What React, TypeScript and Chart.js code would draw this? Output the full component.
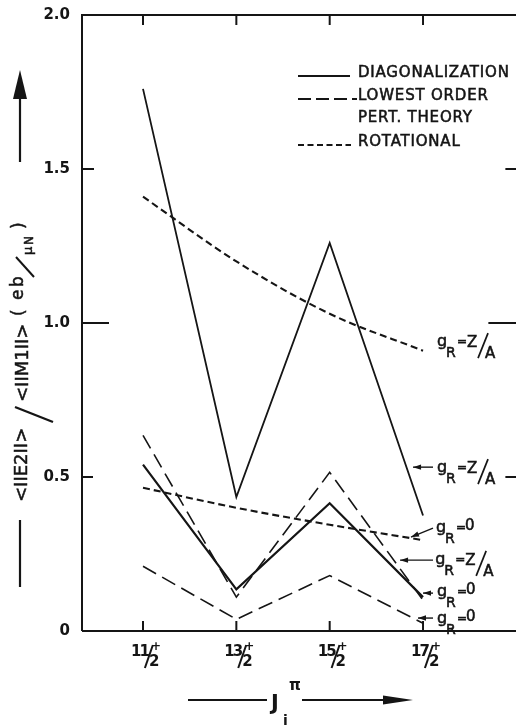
import React, { useEffect, useRef } from "react";
import { Chart, registerables } from "chart.js";

Chart.register(...registerables);

// Spin/parity of the initial state J_i^π (numerator over 2, positive parity)
const spinNumerators = [11, 13, 15, 17];
const spinDenominator = "2";
const parity = "+";

// <||E2||>/<||M1||> in e b / μN
const diagZA = [1.76, 0.435, 1.26, 0.375];
const diagZero = [0.54, 0.135, 0.415, 0.11];
const pertZA = [0.635, 0.11, 0.515, 0.1];
const pertZero = [0.21, 0.038, 0.18, 0.025];
const rotZA = [1.41, 1.2, 1.03, 0.91];
const rotZero = [0.465, 0.4, 0.345, 0.295];

const yTicks = [0, 0.5, 1.0, 1.5, 2.0];
const legendLabels = ["DIAGONALIZATION", "LOWEST ORDER", "PERT. THEORY", "ROTATIONAL"];

const INK = "#151515";
const FONT = '"DejaVu Sans", sans-serif';

// g_R labels next to the curve ends (value coordinates), optional arrow tail -> head
const gLabels = [
  { rhs: "Z/A", x: 3.15, y: 0.925 },
  { rhs: "Z/A", x: 3.15, y: 0.516, arrow: [3.107, 0.532, 2.893, 0.532] },
  { rhs: "0", x: 3.14, y: 0.321, arrow: [3.107, 0.334, 2.871, 0.305] },
  { rhs: "Z/A", x: 3.13, y: 0.218, arrow: [3.107, 0.23, 2.754, 0.23] },
  { rhs: "0", x: 3.15, y: 0.114, arrow: [3.107, 0.123, 3.0, 0.123] },
  { rhs: "0", x: 3.15, y: 0.026, arrow: [3.107, 0.042, 2.946, 0.042] },
];

const toPoints = (vals: number[]) => vals.map((v, i) => ({ x: i, y: v }));

function arrowHead(ctx: CanvasRenderingContext2D, x1: number, y1: number, x2: number, y2: number, len: number, half: number) {
  const a = Math.atan2(y2 - y1, x2 - x1);
  ctx.beginPath();
  ctx.moveTo(x2, y2);
  ctx.lineTo(x2 - len * Math.cos(a) + half * Math.sin(a), y2 - len * Math.sin(a) - half * Math.cos(a));
  ctx.lineTo(x2 - len * Math.cos(a) - half * Math.sin(a), y2 - len * Math.sin(a) + half * Math.cos(a));
  ctx.closePath();
  ctx.fill();
}

function line(ctx: CanvasRenderingContext2D, x1: number, y1: number, x2: number, y2: number, w: number) {
  ctx.lineWidth = w;
  ctx.beginPath();
  ctx.moveTo(x1, y1);
  ctx.lineTo(x2, y2);
  ctx.stroke();
}

// regular glyphs with a thin outline for a medium-weight stroke
function medText(ctx: CanvasRenderingContext2D, text: string, x: number, y: number) {
  ctx.fillText(text, x, y);
  ctx.lineWidth = 0.55;
  ctx.strokeText(text, x, y);
}

function drawGR(ctx: CanvasRenderingContext2D, x0: number, b: number, rhs: string) {
  ctx.textAlign = "left";
  ctx.textBaseline = "alphabetic";
  ctx.font = `16px ${FONT}`;
  medText(ctx, "g", x0, b);
  ctx.font = `14px ${FONT}`;
  medText(ctx, "R", x0 + 9, b + 11);
  ctx.font = `12px ${FONT}`;
  medText(ctx, "=", x0 + 20, b - 1);
  ctx.font = `15px ${FONT}`;
  if (rhs === "0") {
    medText(ctx, "0", x0 + 29, b - 2);
  } else {
    const [num, den] = rhs.split("/");
    medText(ctx, num, x0 + 30, b + 1);
    line(ctx, x0 + 41, b + 12, x0 + 51, b - 13, 1.7);
    medText(ctx, den, x0 + 48, b + 12);
  }
}

function rotText(ctx: CanvasRenderingContext2D, text: string, x: number, y: number, font: string) {
  ctx.save();
  ctx.translate(x, y);
  ctx.rotate(-Math.PI / 2);
  ctx.font = font;
  ctx.textAlign = "left";
  ctx.textBaseline = "alphabetic";
  ctx.fillText(text, 0, 0);
  ctx.lineWidth = 0.5;
  ctx.strokeText(text, 0, 0);
  ctx.restore();
}

const decorations = {
  id: "decorations",
  afterDraw(chart: any) {
    const { ctx, chartArea, scales } = chart;
    const { left, top, right, bottom } = chartArea;
    const xs = scales.x;
    const ys = scales.y;
    ctx.save();
    ctx.strokeStyle = INK;
    ctx.fillStyle = INK;
    ctx.lineCap = "butt";

    // frame
    ctx.lineWidth = 2;
    ctx.beginPath();
    ctx.moveTo(left, bottom);
    ctx.lineTo(left, top);
    ctx.lineTo(right, top);
    ctx.moveTo(left, bottom);
    ctx.lineTo(right, bottom);
    ctx.stroke();

    // inward ticks on the value axes
    const leftTicks: [number, number][] = [[1.5, 12], [1.0, 27], [0.5, 11]];
    leftTicks.forEach(([v, len]) => line(ctx, left, ys.getPixelForValue(v), left + len, ys.getPixelForValue(v), 2));
    const rx = xs.getPixelForValue(4.0) + 2;
    const rightTicks: [number, number][] = [[1.5, 13], [1.0, 30], [0.5, 13]];
    rightTicks.forEach(([v, len]) => line(ctx, rx - len, ys.getPixelForValue(v), rx, ys.getPixelForValue(v), 2));

    // category ticks top and bottom, fraction labels
    spinNumerators.forEach((n, i) => {
      const cx = xs.getPixelForValue(i);
      line(ctx, cx, top, cx, top + 10, 2);
      line(ctx, cx, bottom, cx, bottom - 10, 2);
      const sx = cx - 12;
      ctx.textAlign = "left";
      ctx.textBaseline = "alphabetic";
      ctx.font = `bold 15px ${FONT}`;
      const num = String(n);
      ctx.letterSpacing = "-2px";
      ctx.fillText(num, sx, bottom + 25);
      const w = ctx.measureText(num).width;
      ctx.letterSpacing = "0px";
      line(ctx, sx + w - 3, bottom + 37, sx + w + 5, bottom + 14, 2);
      ctx.fillText(spinDenominator, sx + w + 1, bottom + 35);
      ctx.font = `bold 12px ${FONT}`;
      ctx.fillText(parity, sx + w + 3, bottom + 19);
    });

    // legend
    const lx1 = 298;
    const legendRows = [
      { y: 77, dash: [] as number[], x2: 350, label: legendLabels[0] },
      { y: 100, dash: [13, 5], x2: 357, label: legendLabels[1] },
      { y: 122, dash: null, x2: 0, label: legendLabels[2] },
      { y: 146, dash: [6, 3.5], x2: 351, label: legendLabels[3] },
    ];
    legendRows.forEach((r) => {
      if (r.dash) {
        ctx.setLineDash(r.dash);
        line(ctx, lx1, r.y - 1, r.x2, r.y - 1, 1.8);
        ctx.setLineDash([]);
      }
      ctx.font = `15px ${FONT}`;
      ctx.letterSpacing = "0.8px";
      ctx.textAlign = "left";
      medText(ctx, r.label, 358, r.y);
      ctx.letterSpacing = "0px";
    });

    // g_R labels with arrows
    gLabels.forEach((g) => {
      const gx = xs.getPixelForValue(g.x);
      const gy = ys.getPixelForValue(g.y);
      if (g.arrow) {
        const [ax1, ay1, ax2, ay2] = g.arrow;
        const p1x = xs.getPixelForValue(ax1), p1y = ys.getPixelForValue(ay1);
        const p2x = xs.getPixelForValue(ax2), p2y = ys.getPixelForValue(ay2);
        line(ctx, p1x, p1y, p2x, p2y, 1.4);
        arrowHead(ctx, p1x, p1y, p2x, p2y, 8, 2.7);
      }
      drawGR(ctx, gx, gy, g.rhs);
    });

    // value axis title, reading upward
    line(ctx, 20, 587, 20, 520, 2.2);
    rotText(ctx, "<IIE2II>", 27, 502, `18px ${FONT}`);
    line(ctx, 53, 422, 15, 407, 2.4);
    rotText(ctx, "<IIM1II>", 28, 402, `18px ${FONT}`);
    rotText(ctx, "(", 24, 316, `17px ${FONT}`);
    rotText(ctx, "e", 23, 300, `17px ${FONT}`);
    rotText(ctx, "b", 23, 287, `17px ${FONT}`);
    line(ctx, 34, 277, 16, 257, 2);
    rotText(ctx, "μ", 32, 255, `13px ${FONT}`);
    rotText(ctx, "N", 33, 245, `12px ${FONT}`);
    rotText(ctx, ")", 24, 229, `17px ${FONT}`);
    line(ctx, 20, 162, 20, 95, 2.2);
    ctx.beginPath();
    ctx.moveTo(20, 70);
    ctx.lineTo(27, 99);
    ctx.lineTo(13, 99);
    ctx.closePath();
    ctx.fill();

    // category axis title J_i^π
    line(ctx, 188, 700, 267, 700, 2.2);
    ctx.textAlign = "left";
    ctx.font = `bold 21px ${FONT}`;
    ctx.fillText("J", 271, 710);
    ctx.font = `bold 15px ${FONT}`;
    ctx.fillText("π", 289, 690);
    ctx.font = `bold 14px ${FONT}`;
    ctx.fillText("i", 283, 725);
    line(ctx, 302, 700, 390, 700, 2.2);
    ctx.beginPath();
    ctx.moveTo(413, 700);
    ctx.lineTo(383, 695.5);
    ctx.lineTo(383, 704.5);
    ctx.closePath();
    ctx.fill();

    ctx.restore();
  },
};

export default function App() {
  const ref = useRef<HTMLCanvasElement>(null);

  useEffect(() => {
    if (!ref.current) return;
    const base = { borderColor: INK, pointRadius: 0, fill: false, borderCapStyle: "butt" as const };
    const chart = new Chart(ref.current, {
      type: "line",
      data: {
        datasets: [
          { ...base, label: "Diagonalization g_R=Z/A", data: toPoints(diagZA), borderWidth: 1.8 },
          { ...base, label: "Diagonalization g_R=0", data: toPoints(diagZero), borderWidth: 2.2 },
          { ...base, label: "Lowest order g_R=Z/A", data: toPoints(pertZA), borderWidth: 1.6, borderDash: [15, 7] },
          { ...base, label: "Lowest order g_R=0", data: toPoints(pertZero), borderWidth: 1.6, borderDash: [15, 7] },
          { ...base, label: "Rotational g_R=Z/A", data: toPoints(rotZA), borderWidth: 2.1, borderDash: [7, 4], cubicInterpolationMode: "monotone" as const },
          { ...base, label: "Rotational g_R=0", data: toPoints(rotZero), borderWidth: 2.1, borderDash: [7, 4], cubicInterpolationMode: "monotone" as const },
        ],
      },
      options: {
        animation: false,
        responsive: false,
        layout: { padding: { left: 0, top: 15, right: 0, bottom: 97 } },
        plugins: { legend: { display: false }, tooltip: { enabled: false } },
        scales: {
          x: { type: "linear", display: false, min: -0.6536, max: 4.146 },
          y: {
            min: 0,
            max: 2,
            afterFit: (s: any) => { s.width = 82; },
            afterBuildTicks: (s: any) => { s.ticks = yTicks.map((v) => ({ value: v })); },
            grid: { display: false },
            border: { display: false },
            ticks: {
              padding: 4,
              color: INK,
              font: { family: "DejaVu Sans", size: 15, weight: "bold" },
              callback: (v: any) => (Number(v) === 0 ? "0" : Number(v).toFixed(1)),
            },
          },
        },
      },
      plugins: [decorations],
    });
    return () => chart.destroy();
  }, []);

  return (
    <div style={{ position: "fixed", left: 0, top: 0, width: 530, height: 728, background: "#fff" }}>
      <canvas ref={ref} width={530} height={728} style={{ display: "block" }} />
    </div>
  );
}
